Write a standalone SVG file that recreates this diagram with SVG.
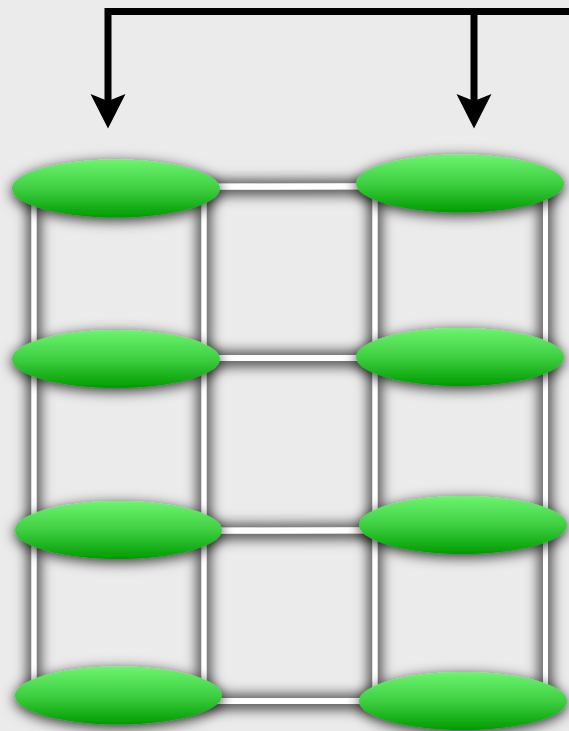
<svg xmlns="http://www.w3.org/2000/svg" width="569" height="731" viewBox="0 0 569 731">
<style>
.wire{stroke:#ffffff;stroke-width:5;fill:none;stroke-linecap:butt}
.node{fill:url(#g)}
.arrow{stroke:#000;stroke-width:7;fill:none;stroke-linejoin:miter;stroke-linecap:butt}
.head{fill:#000}
</style>
<defs>
<linearGradient id="g" x1="0" y1="0" x2="0" y2="1">
<stop offset="0" stop-color="#6cf46e"/>
<stop offset="0.5" stop-color="#3fcf42"/>
<stop offset="1" stop-color="#009c00"/>
</linearGradient>
<filter id="sh" filterUnits="userSpaceOnUse" x="0" y="0" width="569" height="731">
<feMorphology in="SourceAlpha" operator="dilate" radius="3" result="d"/>
<feGaussianBlur in="d" stdDeviation="7"/>
<feOffset dx="0" dy="1" result="b"/>
<feFlood flood-color="#000" flood-opacity="0.85"/>
<feComposite in2="b" operator="in"/>
<feMerge><feMergeNode/><feMergeNode in="SourceGraphic"/></feMerge>
</filter>
<filter id="nsh" x="-20%" y="-70%" width="140%" height="240%">
<feGaussianBlur in="SourceAlpha" stdDeviation="7"/>
<feOffset dx="0" dy="3" result="b"/>
<feFlood flood-color="#000" flood-opacity="0.8"/>
<feComposite in2="b" operator="in"/>
<feMerge><feMergeNode/><feMergeNode in="SourceGraphic"/></feMerge>
</filter>
</defs>
<rect width="569" height="731" fill="#ebebeb"/>
<g id="connectors">
<g filter="url(#sh)">
<line class="wire" x1="34" y1="190" x2="34" y2="695"/>
<line class="wire" x1="204" y1="190" x2="204" y2="695"/>
<line class="wire" x1="375" y1="185" x2="375" y2="701"/>
<line class="wire" x1="545.5" y1="185" x2="545.5" y2="701"/>
<line class="wire" x1="116" y1="187" x2="460" y2="186" style="stroke-width:6"/>
<line class="wire" x1="116" y1="358" x2="460" y2="358" style="stroke-width:6"/>
<line class="wire" x1="118" y1="531" x2="463" y2="530" style="stroke-width:6"/>
<line class="wire" x1="118" y1="701" x2="463" y2="701" style="stroke-width:6"/>
</g>
<path class="arrow" d="M569 11.5 L108 11.5 L108 102"/>
<path class="arrow" d="M474 8 L474 102"/>
<polygon class="head" points="90.5,94 108,128.5 125.5,94 108,101"/>
<polygon class="head" points="456.5,94 474,128.5 491.5,94 474,101"/>
</g>
<g id="n1" filter="url(#nsh)"><ellipse class="node" cx="116" cy="188.5" rx="104" ry="29"/></g>
<g id="n2" filter="url(#nsh)"><ellipse class="node" cx="116" cy="359" rx="104" ry="29"/></g>
<g id="n3" filter="url(#nsh)"><ellipse class="node" cx="118.5" cy="530" rx="103.5" ry="29"/></g>
<g id="n4" filter="url(#nsh)"><ellipse class="node" cx="118.5" cy="695.5" rx="103.5" ry="29"/></g>
<g id="n5" filter="url(#nsh)"><ellipse class="node" cx="460" cy="183.5" rx="104" ry="29"/></g>
<g id="n6" filter="url(#nsh)"><ellipse class="node" cx="460" cy="357" rx="104" ry="29"/></g>
<g id="n7" filter="url(#nsh)"><ellipse class="node" cx="463" cy="525" rx="104" ry="29"/></g>
<g id="n8" filter="url(#nsh)"><ellipse class="node" cx="463" cy="701" rx="104" ry="29"/></g>
</svg>
